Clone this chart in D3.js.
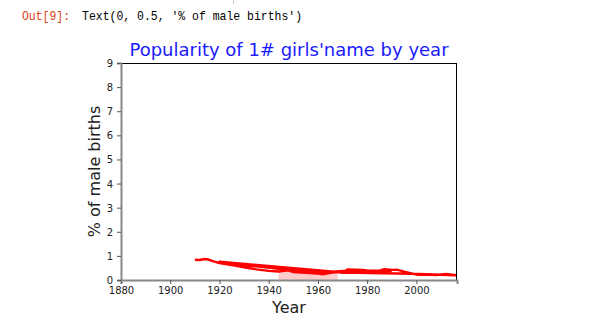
<!DOCTYPE html>
<html>
<head>
<meta charset="utf-8">
<script src="https://cdn.jsdelivr.net/npm/d3@7"></script>
<style>
  body { margin: 0; background: #fff; }
  svg text { font-family: "DejaVu Sans", sans-serif; }
</style>
</head>
<body>
<div id="chart"></div>
<script>
// drawing order of the points (the data was not sorted, so the line doubles back)
var years = [1910, 1912, 1914, 1915, 1918, 1920, 1925, 1930, 1935, 1940, 1944, 1948, 1950, 1955, 1960, 1962, 1965, 1968,
             1970, 1972, 1975, 1978, 1980, 1985, 1987, 1990, 1992, 1995, 1998, 2000, 2005, 2008, 2012, 2016,
             1998, 1970, 1920, 1925, 1935, 1945, 1955, 1965, 1970, 1975, 1990];
var values = [0.84, 0.83, 0.87, 0.86, 0.76, 0.70, 0.62, 0.53, 0.44, 0.38, 0.35, 0.40, 0.33, 0.30, 0.27, 0.24, 0.30, 0.33,
              0.30, 0.44, 0.43, 0.42, 0.40, 0.39, 0.45, 0.42, 0.43, 0.35, 0.27, 0.22, 0.23, 0.20, 0.25, 0.20,
              0.26, 0.31, 0.76, 0.68, 0.57, 0.45, 0.38, 0.33, 0.38, 0.39, 0.38];
var shadeYears = [1944, 1948, 1950, 1955, 1960, 1962, 1965, 1968];
var shadeValues = [0.35, 0.40, 0.33, 0.30, 0.27, 0.24, 0.30, 0.33];
var xTicks = [1880, 1900, 1920, 1940, 1960, 1980, 2000];
var yTicks = [0, 1, 2, 3, 4, 5, 6, 7, 8, 9];

var margin = {top: 63, right: 148, bottom: 52, left: 121},
    width = 605 - margin.left - margin.right,
    height = 332 - margin.top - margin.bottom;

var root = d3.select("#chart").append("svg")
    .attr("width", 605)
    .attr("height", 332);

// notebook output prompt
root.append("line")
    .attr("x1", 233.5).attr("x2", 233.5).attr("y1", 0).attr("y2", 4)
    .attr("stroke", "#ccc");
root.append("text")
    .attr("x", 22).attr("y", 20)
    .style("font-family", "'Liberation Mono', monospace")
    .style("font-size", "13px")
    .attr("fill", "#d84315")
    .attr("textLength", 48).attr("lengthAdjust", "spacingAndGlyphs")
    .text("Out[9]:");
root.append("text")
    .attr("x", 82).attr("y", 20)
    .style("font-family", "'Liberation Mono', monospace")
    .style("font-size", "13px")
    .attr("fill", "#000")
    .attr("textLength", 220).attr("lengthAdjust", "spacingAndGlyphs")
    .text("Text(0, 0.5, '% of male births')");

var svg = root.append("g")
    .attr("transform", "translate(" + margin.left + "," + margin.top + ")");

var x = d3.scaleLinear().domain([1880, 2016.5]).range([0, width]);
var y = d3.scaleLinear().domain([0, 9]).range([height, 0]);

// shaded region
svg.append("path")
    .datum(shadeYears.map(function(d, i) { return [d, shadeValues[i]]; }))
    .attr("fill", "red")
    .attr("fill-opacity", 0.2)
    .attr("d", d3.area()
        .x(function(d) { return x(d[0]); })
        .y0(y(0))
        .y1(function(d) { return y(d[1]); }));

// line
svg.append("path")
    .datum(years.map(function(d, i) { return [d, values[i]]; }))
    .attr("fill", "none")
    .attr("stroke", "red")
    .attr("stroke-width", 2.4)
    .attr("stroke-linejoin", "round")
    .attr("d", d3.line()
        .x(function(d) { return x(d[0]); })
        .y(function(d) { return y(d[1]); }));

// frame: top/right black, left/bottom grey
svg.append("line").attr("x1", 0).attr("x2", width).attr("y1", 0.5).attr("y2", 0.5).attr("stroke", "#000");
svg.append("line").attr("x1", width - 0.5).attr("x2", width - 0.5).attr("y1", 0).attr("y2", height).attr("stroke", "#000");

var xAxis = svg.append("g")
    .attr("transform", "translate(0," + height + ")")
    .call(d3.axisBottom(x).tickValues(xTicks).tickFormat(d3.format("d")).tickSize(4).tickPadding(3));
var yAxis = svg.append("g")
    .call(d3.axisLeft(y).tickValues(yTicks).tickSize(4).tickPadding(4));

[xAxis, yAxis].forEach(function(a) {
  a.select(".domain").attr("stroke", "#888").attr("stroke-width", 2);
  a.selectAll(".tick line").attr("stroke", "#555");
  a.selectAll(".tick text").attr("fill", "#222").style("font-size", "10px")
      .style("font-family", "'DejaVu Sans', sans-serif");
});
yAxis.selectAll(".tick text").attr("dy", "0.35em");

// title and labels
svg.append("text")
    .attr("x", width / 2).attr("y", -7)
    .attr("text-anchor", "middle")
    .attr("fill", "#1a1aff")
    .style("font-size", "18px")
    .text("Popularity of 1# girls'name by year");

svg.append("text")
    .attr("x", width / 2).attr("y", height + 33)
    .attr("text-anchor", "middle")
    .attr("fill", "#222")
    .style("font-size", "16px")
    .text("Year");

svg.append("text")
    .attr("transform", "translate(-21," + (height / 2) + ") rotate(-90)")
    .attr("text-anchor", "middle")
    .attr("fill", "#222")
    .style("font-size", "16px")
    .text("% of male births");
</script>
</body>
</html>
